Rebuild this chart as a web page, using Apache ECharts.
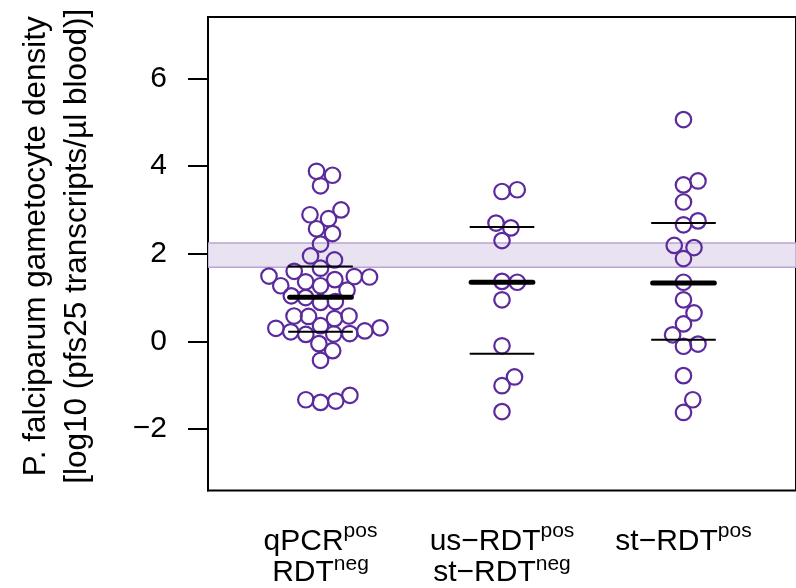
<!DOCTYPE html>
<html>
<head>
<meta charset="utf-8">
<script src="https://cdn.jsdelivr.net/npm/echarts@6/dist/echarts.min.js"></script>
<style>
  html, body { margin: 0; padding: 0; background: #fff; }
  #chart { width: 796px; height: 588px; }
</style>
</head>
<body>
<div id="chart"></div>
<script>
// group labels (rich text for superscripts)
var groupLabels = [
    '{b1|qPCR}{s|pos}\n{b2|RDT}{s|neg}',
    '{b1|us\u2212RDT}{s|pos}\n{b2|st\u2212RDT}{s|neg}',
    '{b1|st\u2212RDT}{s|pos}'
];

// log10 gametocyte density per group, with beeswarm x offsets
var qpcrVals = [3.88, 3.79, 3.55, 2.89, 3.00, 2.80, 2.57, 2.46, 2.22, 1.95, 1.86, 1.67, 1.60, 1.49, 1.27,
    1.36, 1.27, 1.41, 1.48, 1.47, 1.17, 1.04, 1.00, 0.89, 0.91, 0.58, 0.57, 0.52, 0.58, 0.30,
    0.22, 0.16, 0.36, 0.17, 0.18, 0.24, 0.31, -0.05, -0.21, -0.43, -1.33, -1.39, -1.36, -1.23];
var qpcrOff = [-0.022, 0.066, 0, -0.058, 0.113, 0.044, -0.022, 0.066, 0, -0.055, 0.077, 0, -0.145, -0.284, -0.219,
    -0.082, 0, 0.079, 0.186, 0.270, 0.146, -0.161, -0.082, 0, 0.082, -0.146, -0.066, 0.077, 0.157, -0.246,
    -0.164, -0.081, 0, 0.073, 0.161, 0.244, 0.328, -0.009, 0.067, 0, -0.081, 0, 0.084, 0.162];

var usVals = [3.42, 3.46, 2.70, 2.59, 2.30, 1.37, 1.35, 0.95, -0.10, -0.81, -1.01, -1.60];
var usOff = [0, 0.084, -0.033, 0.049, 0, 0, 0.084, 0, 0, 0.069, 0, 0];

var stVals = [5.06, 3.57, 3.66, 3.18, 2.66, 2.75, 2.19, 2.14, 1.89, 1.35, 0.95, 0.65, 0.40, 0.15,
    -0.11, -0.06, -0.78, -1.33, -1.62];
var stOff = [0, 0, 0.080, 0, 0, 0.080, -0.051, 0.058, 0, 0, 0, 0.058, 0, -0.060, 0, 0.080, 0, 0.051, 0];

// median and quartiles per group
var medians = [1.01, 1.35, 1.33];
var q1 = [0.22, -0.28, 0.04];
var q3 = [1.71, 2.61, 2.70];

// reference band
var bandLow = 1.69;
var bandHigh = 2.245;

var yTicks = [-2, 0, 2, 4, 6];
var xMin = 0.38, xMax = 3.62;

var purple = '#5b2a9c';

function swarm(vals, off, g) {
    return vals.map(function (v, i) { return [g + off[i], v]; });
}
var points = swarm(qpcrVals, qpcrOff, 1).concat(swarm(usVals, usOff, 2), swarm(stVals, stOff, 3));

function segment(half, width, cap) {
    return function (params, api) {
        var g = api.value(0), v = api.value(1);
        var a = api.coord([g - half, v]);
        var b = api.coord([g + half, v]);
        return {
            type: 'line',
            shape: { x1: a[0], y1: a[1], x2: b[0], y2: b[1] },
            style: { stroke: '#000', lineWidth: width, lineCap: cap }
        };
    };
}

var chart = echarts.init(document.getElementById('chart'));
var font = 'Liberation Sans, Arial, sans-serif';

chart.setOption({
    animation: false,
    grid: {
        left: 208, top: 17, width: 593, height: 474,
        show: true, borderColor: '#000', borderWidth: 2, backgroundColor: 'transparent'
    },
    xAxis: {
        type: 'value', min: xMin, max: xMax,
        axisLine: { show: false },
        axisTick: { show: false },
        splitLine: { show: false },
        axisLabel: {
            customValues: [1, 2, 3],
            margin: 35,
            verticalAlign: 'top',
            formatter: function (v) { return groupLabels[Math.round(v) - 1]; },
            rich: {
                b1: { fontFamily: font, fontSize: 30, lineHeight: 33, color: '#000' },
                b2: { fontFamily: font, fontSize: 30, lineHeight: 29, color: '#000' },
                s: { fontFamily: font, fontSize: 21, lineHeight: 11, height: 11, color: '#000', verticalAlign: 'top' }
            }
        }
    },
    yAxis: {
        type: 'value', min: -3.4, max: 7.4,
        name: 'P. falciparum gametocyte density\n[log10 (pfs25 transcripts/\u00b5l blood)]',
        nameLocation: 'middle', nameRotate: 90, nameGap: 110,
        nameTextStyle: { fontFamily: font, fontSize: 31.5, lineHeight: 41, color: '#000', padding: [0, 0, 0, 15] },
        axisLine: { show: true, lineStyle: { color: '#000', width: 2 } },
        axisTick: { customValues: yTicks, length: 20, lineStyle: { color: '#000', width: 2 } },
        splitLine: { show: false },
        axisLabel: {
            customValues: yTicks,
            margin: 41,
            fontFamily: font, fontSize: 30, color: '#000',
            formatter: function (v) { return String(v).replace('-', '\u2212'); }
        }
    },
    series: [
        {
            type: 'custom', z: 1, silent: true, clip: true,
            data: [[bandLow, bandHigh]],
            renderItem: function (params, api) {
                var a = api.coord([xMin, api.value(1)]);
                var b = api.coord([xMax, api.value(0)]);
                return {
                    type: 'rect',
                    shape: { x: a[0], y: a[1], width: b[0] - a[0], height: b[1] - a[1] },
                    style: { fill: '#e9e2f0', stroke: '#b9a4d4', lineWidth: 1.5 }
                };
            }
        },
        {
            type: 'scatter', z: 2, silent: true,
            symbol: 'circle', symbolSize: 15.5,
            itemStyle: { color: 'rgba(0,0,0,0)', borderColor: purple, borderWidth: 2.2, opacity: 1 },
            data: points
        },
        {
            type: 'custom', z: 3, silent: true,
            data: q1.map(function (v, i) { return [i + 1, v]; }).concat(q3.map(function (v, i) { return [i + 1, v]; })),
            renderItem: segment(0.178, 2, 'butt')
        },
        {
            type: 'custom', z: 4, silent: true,
            data: medians.map(function (v, i) { return [i + 1, v]; }),
            renderItem: segment(0.170, 5, 'round')
        }
    ]
});
</script>
</body>
</html>
